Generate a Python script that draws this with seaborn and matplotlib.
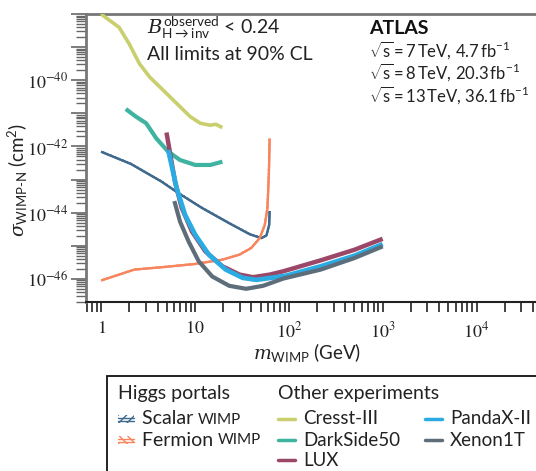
import numpy as np
import pandas as pd
import matplotlib
matplotlib.use("Agg")
import matplotlib.pyplot as plt
import matplotlib.patheffects as pe
from matplotlib.patches import Rectangle
from matplotlib.lines import Line2D
from matplotlib.ticker import FixedLocator, NullFormatter, LogLocator
import seaborn as sns

# ---------------- data (mass in GeV, log10 of cross-section in cm^2) ----------------
cresst_m = [0.9, 1.04, 1.55, 1.99, 2.56, 3.28, 4.58, 6.38, 8.89, 11.4, 14.6, 16.6, 19.6]
cresst_s = [-37.7, -38.04, -38.40, -38.90, -39.50, -39.90, -40.30, -40.70, -41.10,
            -41.30, -41.36, -41.33, -41.43]

darkside_m = [1.83, 2.35, 3.02, 3.88, 5.19, 6.93, 10.07, 14.6, 19.6]
darkside_s = [-40.87, -41.10, -41.30, -41.76, -42.16, -42.41, -42.56, -42.56, -42.46]

lux_m = [4.97, 5.40, 6.12, 7.23, 9.28, 12.9, 19.6, 29.8, 41.5, 62.9, 87.6, 219, 502, 1000]
lux_s = [-41.58, -42.16, -43.06, -43.86, -44.57, -45.17, -45.62, -45.87, -45.95,
         -45.87, -45.77, -45.44, -45.12, -44.79]

pandax_m = [5.19, 6.38, 7.85, 10.07, 14.06, 21.3, 32.3, 45, 68.3, 95, 219, 502, 1000]
pandax_s = [-42.11, -43.26, -44.07, -44.67, -45.27, -45.72, -45.97, -46.03, -45.96,
            -45.90, -45.62, -45.30, -44.95]

xenon_m = [6.03, 6.93, 8.55, 10.97, 15.3, 23.2, 35.1, 53.2, 87.6, 219, 502, 1000]
xenon_s = [-43.65, -44.27, -44.87, -45.47, -45.93, -46.21, -46.30, -46.21, -45.99,
           -45.72, -45.37, -45.02]

scalar_m = [1.0, 2.08, 4.39, 6.66, 11.9, 23.2, 38.2, 51.0, 57.8, 61.8, 62.5]
scalar_s = [-42.16, -42.53, -43.06, -43.41, -43.86, -44.32, -44.65, -44.77, -44.69,
            -44.37, -43.95]

fermion_m = [1.0, 2.26, 4.39, 10.07, 19.6, 29.8, 39.7, 49.0, 55.5, 59.2, 61.3, 62.5]
fermion_s = [-46.05, -45.72, -45.65, -45.55, -45.42, -45.27, -45.07, -44.77, -44.37,
             -43.86, -42.86, -41.76]

x_ticks = [1, 10, 100, 1000, 10000]
x_ticklabels = [r"$1$", r"$10$", r"$10^{2}$", r"$10^{3}$", r"$10^{4}$"]
y_labelled = [-46, -44, -42, -40]

colors = {
    "Cresst-III": "#c8cf6c",
    "DarkSide50": "#3db3a0",
    "LUX": "#9b4868",
    "PandaX-II": "#2aabe2",
    "Xenon1T": "#5d6d7a",
    "Scalar": "#3f6a8e",
    "Fermion": "#f7865f",
}

# ---------------- style ----------------
sns.set_style("ticks")
plt.rcParams["font.family"] = ["Lato", "DejaVu Sans"]
plt.rcParams["mathtext.fontset"] = "custom"
plt.rcParams["mathtext.rm"] = "Lato"
plt.rcParams["mathtext.it"] = "DejaVu Serif:italic"
plt.rcParams["mathtext.bf"] = "Lato:bold"
plt.rcParams["hatch.linewidth"] = 1.0

fig = plt.figure(figsize=(5.36, 4.71), dpi=100)
ax = fig.add_axes([86 / 536, 1 - 302 / 471, 1 - 86 / 536 + 0.02, (302 - 14) / 471])

def frame(m, s, name):
    return pd.DataFrame({"m": m, "sigma": [10.0 ** v for v in s], "name": name})

series = [
    (cresst_m, cresst_s, "Cresst-III", 2.6),
    (darkside_m, darkside_s, "DarkSide50", 3.0),
    (scalar_m, scalar_s, "Scalar", 1.6),
    (fermion_m, fermion_s, "Fermion", 1.6),
    (lux_m, lux_s, "LUX", 3.2),
    (pandax_m, pandax_s, "PandaX-II", 3.4),
    (xenon_m, xenon_s, "Xenon1T", 3.0),
]
for m, s, name, lw in series:
    df = frame(m, s, name)
    sns.lineplot(data=df, x="m", y="sigma", ax=ax, color=colors[name], lw=lw,
                 sort=False, estimator=None, legend=False, zorder=3)
    ln = ax.lines[-1]
    ln.set_solid_joinstyle("round")
    ln.set_solid_capstyle("butt")
    if name in ("Scalar", "Fermion"):
        ln.set_path_effects([
            pe.Normal(),
            pe.withTickedStroke(angle=60, length=0.35, spacing=3, linewidth=0.8),
        ])

ax.set_xscale("log")
ax.set_yscale("log")
ax.set_xlim(0.69, 5.6e4)
ax.set_ylim(2.0e-47, 1.0e-38)
ax.set_xlabel("")
ax.set_ylabel("")

# ticks
ax.xaxis.set_major_locator(FixedLocator(x_ticks))
ax.set_xticklabels(x_ticklabels)
ax.xaxis.set_minor_locator(LogLocator(base=10, subs=np.arange(2, 10), numticks=50))
ax.xaxis.set_minor_formatter(NullFormatter())
ax.tick_params(axis="x", which="both", direction="out", length=7, width=1.2, color="#222222", pad=6)

ymaj = [10.0 ** e for e in range(-47, -37)]
ax.yaxis.set_major_locator(FixedLocator(ymaj))
ax.set_yticklabels([r"$10^{%d}$" % e if e in y_labelled else "" for e in range(-47, -37)])
ax.yaxis.set_minor_locator(LogLocator(base=10, subs=np.arange(2, 10), numticks=50))
ax.yaxis.set_minor_formatter(NullFormatter())
ax.tick_params(axis="y", which="major", direction="out", length=11, width=1.2, color="#666666", pad=2)
ax.tick_params(axis="y", which="minor", direction="out", length=7, width=1.0, color="#666666")
for lbl in ax.get_xticklabels() + ax.get_yticklabels():
    lbl.set_math_fontfamily("stix")
    lbl.set_fontsize(13)
    lbl.set_color("#222222")

ax.spines["right"].set_visible(False)
ax.spines["top"].set_color("#777777")
ax.spines["top"].set_linewidth(2)
ax.spines["left"].set_color("#777777")
ax.spines["left"].set_linewidth(2)
ax.spines["bottom"].set_color("#222222")
ax.spines["bottom"].set_linewidth(1.5)

# axis labels
fig.text(18 / 536, 1 - 180 / 471, r"$\sigma_{\mathrm{WIMP\text{-}N}}$ (cm$^2$)", rotation=90,
         ha="center", va="center", fontsize=13.5, color="#222222")
fig.text(307 / 536, 1 - 353 / 471, r"$m_{\mathrm{WIMP}}$ (GeV)", ha="center", va="center",
         fontsize=13.5, color="#222222")

# annotations
fig.text(147 / 536, 1 - 28 / 471, r"$B^{\mathrm{observed}}_{\mathrm{H\rightarrow inv}}$ < 0.24",
         ha="left", va="center", fontsize=14, color="#222222")
fig.text(147 / 536, 1 - 54 / 471, "All limits at 90% CL", ha="left", va="center",
         fontsize=14, color="#222222")
fig.text(369 / 536, 1 - 29 / 471, "ATLAS", ha="left", va="center", fontsize=14,
         fontweight="bold", color="#111111")
ts = "\u2009"
atlas_lines = [("7", "4.7"), ("8", "20.3"), ("13", "36.1")]
for i, (e, lum) in enumerate(atlas_lines):
    t = (r"$\sqrt{\mathrm{s}}$" + ts + "=" + ts + e + ts + "TeV, " + lum + ts
         + r"fb$^{-1}$")
    fig.text(369 / 536, 1 - (50 + 22.5 * i) / 471, t, ha="left", va="center",
             fontsize=12, color="#222222")

# ---------------- legend (manual) ----------------
W, H = 536.0, 471.0
box = Rectangle((107 / W, -0.05), 0.9, 1 - 376 / H + 0.05, transform=fig.transFigure,
                facecolor="white", edgecolor="#111111", lw=1.3, clip_on=False)
fig.patches.append(box)

def fx(px):
    return px / W

def fy(py):
    return 1 - py / H

fig.text(fx(118), fy(393), "Higgs portals", ha="left", va="center", fontsize=14, color="#222222")
fig.text(fx(278), fy(393), "Other experiments", ha="left", va="center", fontsize=14, color="#222222")

def hatched(px, py, color, hatch):
    r = Rectangle((fx(px), fy(py) - 4 / H), 16 / W, 8 / H, transform=fig.transFigure,
                  facecolor="none", edgecolor=color, hatch=hatch, lw=0)
    fig.patches.append(r)
    for dy in (-1.5, 1.5):
        fig.lines.append(Line2D([fx(px), fx(px + 16)], [fy(py + dy)] * 2,
                                transform=fig.transFigure, color=color, lw=1))

hatched(118, 419, colors["Scalar"], "////")
hatched(118, 440, colors["Fermion"], "\\\\\\\\")

def small_caps_entry(px, py, word):
    t = fig.text(fx(px), fy(py), word + " ", ha="left", va="center", fontsize=14, color="#222222")
    fig.canvas.draw()
    bb = t.get_window_extent()
    fig.text(bb.x1 / W, fy(py + 0.5), "WIMP", ha="left", va="center", fontsize=11, color="#222222")

small_caps_entry(142, 419, "Scalar")
small_caps_entry(142, 440, "Fermion")

def line_entry(px, py, name, label):
    fig.lines.append(Line2D([fx(px), fx(px + 17)], [fy(py)] * 2, transform=fig.transFigure,
                            color=colors[name], lw=2.5))
    fig.text(fx(px + 25), fy(py), label, ha="left", va="center", fontsize=13.5, color="#222222")

line_entry(278, 419, "Cresst-III", "Cresst-III")
line_entry(278, 440, "DarkSide50", "DarkSide50")
line_entry(278, 460, "LUX", "LUX")
line_entry(425, 419, "PandaX-II", "PandaX-II")
line_entry(425, 440, "Xenon1T", "Xenon1T")

fig.savefig("out.png", dpi=100)
